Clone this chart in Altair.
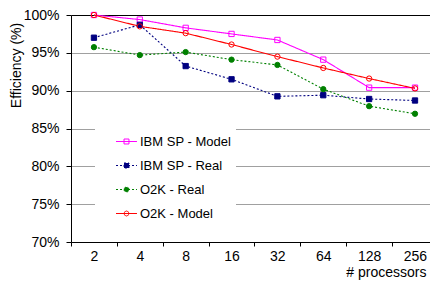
import altair as alt
import pandas as pd

procs = ["2", "4", "8", "16", "32", "64", "128", "256"]
series_names = ["IBM SP - Model", "IBM SP - Real", "O2K - Real", "O2K - Model"]
ibm_model = [100.0, 99.4, 98.3, 97.5, 96.7, 94.1, 90.4, 90.4]
ibm_real = [97.0, 98.7, 93.25, 91.5, 89.25, 89.4, 88.9, 88.7]
o2k_real = [95.75, 94.7, 95.1, 94.1, 93.4, 90.2, 87.95, 86.95]
o2k_model = [100.0, 98.5, 97.6, 96.1, 94.5, 93.0, 91.6, 90.3]
colors = ["#ff00ff", "#000080", "#008000", "#ff0000"]
dashes = [[1, 0], [2, 2], [2, 2], [1, 0]]
point_shapes = ["square", "square", "circle", "circle"]
point_fills = ["transparent", "#000080", "#008000", "transparent"]

# legend glyphs: short line with its marker (unit coords)
oct_pts = [(0.06, 0), (-0.031, 0.219), (-0.25, 0.31), (-0.469, 0.219), (-0.56, 0),
           (-0.469, -0.219), (-0.25, -0.31), (-0.031, -0.219)]
oct_path = "".join(
    f"M{oct_pts[i][0]},{oct_pts[i][1]}L{oct_pts[(i + 1) % 8][0]},{oct_pts[(i + 1) % 8][1]}"
    for i in range(8)
)
legend_paths = [
    "M-1.56,0H1.06M-0.56,-0.31H0.06M0.06,-0.31V0.31M0.06,0.31H-0.56M-0.56,0.31V-0.31",
    "M-1.56,0H1.06M-0.56,-0.31H0.06V0.31H-0.56Z",
    "M-1.56,0H1.06M-0.56,0A0.31,0.31 0 1,0 0.06,0A0.31,0.31 0 1,0 -0.56,0Z",
    "M-1.56,0H1.06" + oct_path,
]

rows = []
for name, vals in zip(series_names, [ibm_model, ibm_real, o2k_real, o2k_model]):
    for i, (p, v) in enumerate(zip(procs, vals)):
        rows.append({"series": name, "idx": i, "proc": p, "eff": v / 100.0})
df = pd.DataFrame(rows)

FONT = "Liberation Sans"

x_enc = alt.X(
    "idx:Q",
    scale=alt.Scale(domain=[-0.5, 7.327], nice=False, zero=False),
    axis=alt.Axis(
        values=[-0.5, 0.5, 1.5, 2.5, 3.5, 4.5, 5.5, 6.5],
        labelExpr="pow(2, datum.value + 1.5)",
        labelOffset=22.9,
        labelFlush=False,
        labelOverlap=False,
        grid=False,
        domainColor="black",
        tickColor="black",
        tickSize=4,
        labelPadding=3,
        labelFontSize=14,
        labelFont=FONT,
        labelColor="black",
        title="# processors",
        titleFont=FONT,
        titleFontSize=14,
        titleFontWeight="normal",
        titleColor="black",
        titleAlign="right",
        titleBaseline="middle",
        titleX=355,
        titleY=30,
    ),
)
y_enc = alt.Y(
    "eff:Q",
    scale=alt.Scale(domain=[0.70, 1.0], nice=False, zero=False),
    axis=alt.Axis(
        values=[0.70, 0.75, 0.80, 0.85, 0.90, 0.95, 1.0],
        format=".0%",
        grid=True,
        gridColor={"condition": {"test": "datum.value > 0.99", "value": "black"}, "value": "#a0a0a0"},
        domainColor="black",
        tickColor="black",
        tickSize=5,
        labelPadding=7,
        labelFontSize=14,
        labelFont=FONT,
        labelColor="black",
        title="Efficiency (%)",
        titleFont=FONT,
        titleFontSize=14,
        titleFontWeight="normal",
        titleColor="black",
        titleAngle=270,
        titleAlign="center",
        titleBaseline="middle",
        titleX=-55,
        titleY=50,
    ),
)

base = alt.Chart(df)

lines = base.mark_line(strokeWidth=1.1).encode(
    x=x_enc,
    y=y_enc,
    color=alt.Color("series:N", scale=alt.Scale(domain=series_names, range=colors), legend=None),
    strokeDash=alt.StrokeDash("series:N", scale=alt.Scale(domain=series_names, range=dashes), legend=None),
)

points = base.mark_point(size=28, strokeWidth=1, opacity=1).encode(
    x=x_enc,
    y=y_enc,
    color=alt.Color("series:N", scale=alt.Scale(domain=series_names, range=colors), legend=None),
    shape=alt.Shape("series:N", scale=alt.Scale(domain=series_names, range=point_shapes), legend=None),
    fill=alt.Fill("series:N", scale=alt.Scale(domain=series_names, range=point_fills), legend=None),
)

leg_def = alt.Legend(
    title=None,
    orient="none",
    legendX=24,
    legendY=114,
    fillColor="white",
    padding=4,
    symbolSize=256,
    symbolStrokeWidth=1,
    symbolOpacity=1,
    symbolOffset=21,
    labelFont=FONT,
    labelFontSize=13,
    labelColor="black",
    labelOffset=3,
    labelLimit=0,
    labelExpr="datum.label + '      '",
    rowPadding=8,
)

legend_layer = base.transform_filter("false").mark_point(filled=True, opacity=1, strokeWidth=1).encode(
    color=alt.Color("series:N", scale=alt.Scale(domain=series_names, range=colors), legend=leg_def),
    stroke=alt.Stroke("series:N", scale=alt.Scale(domain=series_names, range=colors), legend=leg_def),
    shape=alt.Shape("series:N", scale=alt.Scale(domain=series_names, range=legend_paths), legend=leg_def),
    strokeDash=alt.StrokeDash("series:N", scale=alt.Scale(domain=series_names, range=dashes), legend=leg_def),
)

chart = (
    alt.layer(lines, points, legend_layer)
    .resolve_scale(color="independent", shape="independent", strokeDash="independent",
                   stroke="independent", fill="independent")
    .properties(
        width=359,
        height=227,
        autosize=alt.AutoSizeParams(type="none"),
        padding={"left": 63, "top": 7, "right": 0, "bottom": 38},
        background="white",
    )
    .configure_view(stroke=None)
)

chart.save("out.html", embed_options={"renderer": "svg", "actions": False})
